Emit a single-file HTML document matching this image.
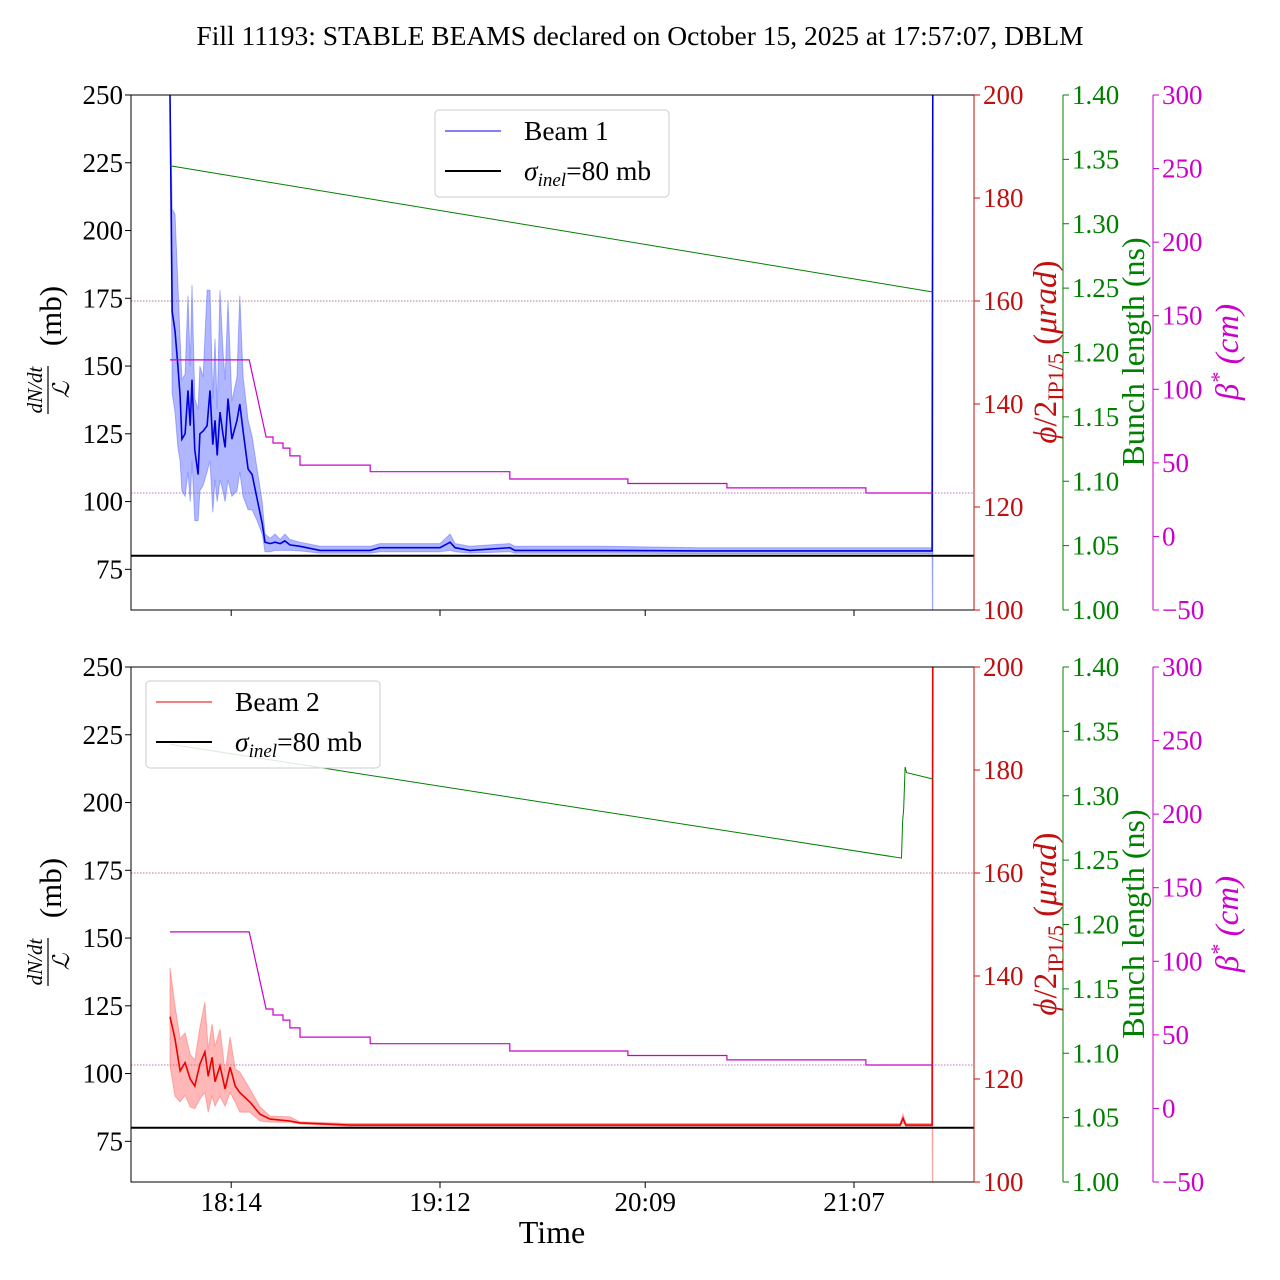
<!DOCTYPE html>
<html><head><meta charset="utf-8"><style>
body{margin:0;background:#fff}
svg{display:block;font-family:"Liberation Serif",serif}
</style></head><body>
<svg id="chart" width="1280" height="1280" viewBox="0 0 1280 1280" xmlns="http://www.w3.org/2000/svg">
<text x="640" y="45" font-size="27.5" text-anchor="middle">Fill 11193: STABLE BEAMS declared on October 15, 2025 at 17:57:07, DBLM</text>
</svg>
<script>
// time in minutes since 17:57
const xTickMinutes = [17, 75, 132, 190];
const xTickLabels = ["18:14", "19:12", "20:09", "21:07"];
const leftTicks = [75, 100, 125, 150, 175, 200, 225, 250];
const redTicks = [100, 120, 140, 160, 180, 200];
const greenTicks = [1.00, 1.05, 1.10, 1.15, 1.20, 1.25, 1.30, 1.35, 1.40];
const magTicks = [-50, 0, 50, 100, 150, 200, 250, 300];

const b1Time = [0,0.6,1.4,2.2,2.8,3.3,4.2,5,5.6,6.1,6.9,7.8,8.3,9.2,10.3,11.1,11.9,12.5,13.1,13.9,14.7,15.3,16.1,17.2,18.6,19.4,20.3,21.7,22.8,24.2,25.6,26.4,27.8,29.2,30.6,31.9,33.3,36.1,41.7,47.2,55.6,58.3,75,77.8,79.2,83.3,94.4,95.8,105.6,119.4,147.2,175,202.8,211.7,211.9];
const b1Mean = [250,170,163,150,139,123,125,141,128,145,119,110,125,126,128,141,121,130,117,133,125,120,138,123,130,136,126,112,110,101,92,85,84.5,85,84.5,85.5,84,83.5,82,82,82,83,83,85,83,82,83,82,82,82,81.8,81.8,81.8,81.8,260];
const b1Hi = [250,208,206,180,160,145,147,176,150,180,138,134,150,146,178,178,138,160,134,178,156,145,174,137,146,176,146,130,124,112,100,88,86.5,88,86,88,86,85,83.5,83.5,83.5,84.5,84.5,88,84.5,83.5,84.5,83.5,83.5,83.5,83,83,83,83,260];
const b1Lo = [250,140,133,120,115,104,102,111,100,115,93,93,104,106,111,115,96,108,100,108,104,100,108,102,104,111,102,97,97,93,88,81.5,81.5,82,82,82,82,81.8,81,81,81,81.5,81.5,82,81.5,81,81.5,81,81,81,80.8,80.8,80.8,80.8,40];

const b2Time = [0,1.4,2.8,4.2,5.6,6.9,8.3,9.7,10.6,11.7,12.5,13.9,15.3,16.7,18.1,19.4,22.2,25,27.8,33.3,36.1,50,91.7,147.2,202.8,203.6,204.4,211.7,211.9];
const b2Mean = [121,112.8,101,104,98,95.4,103.5,108,99,106,97,102.8,94.3,102.4,95.4,93,89.5,85,83.2,82.5,81.8,81,81,81,81,83.5,81,81,260];
const b2Hi = [139,125,112.8,115,107,105,117,126.4,109,118.3,110,116.4,100.6,113.5,101.7,100.6,94.3,87.7,84.3,84,82.2,81.6,81.6,81.6,81.6,85,81.6,81.6,260];
const b2Lo = [102.8,91.7,89.5,92,87.7,87,90.6,93,85.8,91.7,88,91.7,88,93,89.5,85.8,85.8,82.5,82.1,82.1,81.4,80.6,80.6,80.6,80.6,82,80.6,80.6,40];

const betaTime = [0,22,26.7,28.6,28.6,31.4,31.4,33.3,33.3,36.1,36.1,55.6,55.6,94.4,94.4,127.2,127.2,154.7,154.7,193.3,193.3,211.9];
const betaVal = [120,120,67.6,67.6,63.5,63.5,60,60,54.7,54.7,48.5,48.5,44,44,39,39,36,36,33,33,29.5,29.5];

const bl1Time = [0, 211.9];
const bl1Val = [1.345, 1.247];
const bl2Time = [0, 203.2, 203.5, 203.8, 204.2, 204.6, 211.9];
const bl2Val = [1.340, 1.2516, 1.28, 1.29, 1.3223, 1.318, 1.313];

const sigmaInel = 80;
const refRed = 160;
const refBeta = 29.5;

const NS = "http://www.w3.org/2000/svg";
const svg = document.getElementById('chart');
const X0 = 131, X1 = 974;
const xs = t => 170 + t * 3.6;
function mk(tag, attrs, parent) {
  const e = document.createElementNS(NS, tag);
  for (const k in attrs) e.setAttribute(k, attrs[k]);
  (parent || svg).appendChild(e);
  return e;
}
function poly(ts, vs, f) { return ts.map((t, i) => xs(t).toFixed(1) + ',' + f(vs[i]).toFixed(1)).join(' '); }

function panel(top, idx, T, M, H, L, color, fillc, bT, bV, legendLabel, legX, legY, showXLabels) {
  const bot = top + 515;
  const yL = v => bot - (v - 60) * 515 / 190;
  const yR = v => bot - (v - 100) * 515 / 100;
  const yG = v => bot - (v - 1.0) * 515 / 0.4;
  const yM = v => bot - (v + 50) * 515 / 350;
  const g = mk('g', {});
  
  
  const clipId = 'clip' + idx;
  const cp = mk('clipPath', { id: clipId }, g);
  mk('rect', { x: X0, y: top, width: X1 - X0, height: 515 }, cp);
  const plot = mk('g', { 'clip-path': 'url(#' + clipId + ')' }, g);
  const r1 = mk('line', { x1: X0, x2: X1, y1: yR(refRed), y2: yR(refRed), stroke: '#905050', 'stroke-width': 0.8, 'stroke-dasharray': '1.5,1.5' }, plot);
  
  
  const r2 = mk('line', { x1: X0, x2: X1, y1: yM(refBeta), y2: yM(refBeta), stroke: '#a050a0', 'stroke-width': 0.8, 'stroke-dasharray': '1.5,1.5' }, plot);
  
  
  const bandPts = poly(T, H, yL) + ' ' + poly(T.slice().reverse(), L.slice().reverse(), yL);
  const band = mk('polygon', { points: bandPts, fill: fillc, 'fill-opacity': 0.45, stroke: fillc, 'stroke-opacity': 0.45, 'stroke-width': 1 }, plot);
  
  
  const ln = mk('polyline', { points: poly(T, M, yL), fill: 'none', stroke: color, 'stroke-width': 1.6 }, plot);
  
  
  const gl = mk('polyline', { points: poly(bT, bV, yG), fill: 'none', stroke: 'green', 'stroke-width': 1 }, plot);
  
  
  const ml = mk('polyline', { points: poly(betaTime, betaVal, yM), fill: 'none', stroke: '#cc00cc', 'stroke-width': 1.2 }, plot);
  
  
  const sl = mk('line', { x1: X0, x2: X1, y1: yL(sigmaInel), y2: yL(sigmaInel), stroke: '#000', 'stroke-width': 2 }, plot);
  
  
  mk('rect', { x: X0, y: top, width: X1 - X0, height: 515, fill: 'none', stroke: '#000', 'stroke-width': 1 }, g);
  leftTicks.forEach(v => {
    const y = yL(v);
    mk('line', { x1: X0 - 6, x2: X0, y1: y, y2: y, stroke: '#000' }, g);
    const t = mk('text', { x: X0 - 8, y: y + 9, 'font-size': 27, 'text-anchor': 'end' }, g);
    t.textContent = v;
    
    
  });
  xTickMinutes.forEach((m, i) => {
    const x = xs(m);
    mk('line', { x1: x, x2: x, y1: bot, y2: bot + 6, stroke: '#000' }, g);
    if (showXLabels) {
      const t = mk('text', { x: x, y: bot + 29, 'font-size': 27, 'text-anchor': 'middle' }, g);
      t.textContent = xTickLabels[i];
      
      
    }
  });
  const axes = [[974, redTicks, yR, '#c01010', v => v], [1063, greenTicks, yG, 'green', v => v.toFixed(2)], [1153, magTicks, yM, '#cc00cc', v => v < 0 ? '\u2212' + (-v) : v]];
  axes.forEach(([ax, ticks, f, c, fmt]) => {
    mk('line', { x1: ax, x2: ax, y1: top, y2: bot, stroke: c, 'stroke-width': 1 }, g);
    ticks.forEach(v => {
      const y = f(v);
      mk('line', { x1: ax, x2: ax + 6, y1: y, y2: y, stroke: c }, g);
      const t = mk('text', { x: ax + 9, y: y + 9, 'font-size': 27, fill: c }, g);
      t.textContent = fmt(v);
      
      
    });
  });
  const cy = top + 257;
  const ll = mk('g', { transform: 'translate(50,' + cy + ') rotate(-90)' }, g);
  
  
  const a = mk('text', { x: -38, y: -8, 'font-size': 21, 'font-style': 'italic', 'text-anchor': 'middle' }, ll); a.textContent = 'dN/dt';
  mk('line', { x1: -62, x2: -14, y1: -2, y2: -2, stroke: '#000', 'stroke-width': 1.2 }, ll);
  const b = mk('text', { x: -38, y: 19, 'font-size': 23, 'font-style': 'italic', 'text-anchor': 'middle' }, ll); b.textContent = '\u2112';
  const c2 = mk('text', { x: 36, y: 11, 'font-size': 31, 'text-anchor': 'middle' }, ll); c2.textContent = '(mb)';
  const rl = mk('text', { transform: 'translate(1056,' + cy + ') rotate(-90)', 'font-size': 33, fill: '#c01010', 'text-anchor': 'middle' }, g);
  
  
  rl.innerHTML = '<tspan font-style="italic">\u03d5</tspan>/2<tspan font-size="22" dy="7">IP1/5</tspan><tspan dy="-7"> (</tspan><tspan font-style="italic">\u03bcrad</tspan>)';
  const gt = mk('text', { transform: 'translate(1144,' + cy + ') rotate(-90)', 'font-size': 32, fill: 'green', 'text-anchor': 'middle' }, g);
  gt.textContent = 'Bunch length (ns)';
  
  
  const mt = mk('text', { transform: 'translate(1238,' + cy + ') rotate(-90)', 'font-size': 33, fill: '#cc00cc', 'text-anchor': 'middle', 'font-style': 'italic' }, g);
  mt.innerHTML = '\u03b2<tspan font-size="22" dy="-12">*</tspan><tspan dy="12"> (cm)</tspan>';
  
  
  const lg = mk('g', {}, g);
  
  
  mk('rect', { x: legX, y: legY, width: 234, height: 87, rx: 4, fill: '#fff', 'fill-opacity': 0.85, stroke: '#ccc' }, lg);
  mk('line', { x1: legX + 10, x2: legX + 66, y1: legY + 21, y2: legY + 21, stroke: color, 'stroke-width': 1 }, lg);
  const t1 = mk('text', { x: legX + 89, y: legY + 30, 'font-size': 27.5 }, lg); t1.textContent = legendLabel;
  
  
  mk('line', { x1: legX + 10, x2: legX + 66, y1: legY + 61, y2: legY + 61, stroke: '#000', 'stroke-width': 2 }, lg);
  const t2 = mk('text', { x: legX + 89, y: legY + 70, 'font-size': 27.5 }, lg);
  t2.innerHTML = '<tspan font-style="italic">\u03c3</tspan><tspan font-style="italic" font-size="19" dy="6">inel</tspan><tspan dy="-6">=80 mb</tspan>';
  
  
}
panel(95, 1, b1Time, b1Mean, b1Hi, b1Lo, '#0000dd', '#5060ff', bl1Time, bl1Val, 'Beam 1', 435, 110, false);
panel(667, 2, b2Time, b2Mean, b2Hi, b2Lo, '#ee0000', '#ff6060', bl2Time, bl2Val, 'Beam 2', 146, 681, true);
const xt = mk('text', { x: 552, y: 1243, 'font-size': 32, 'text-anchor': 'middle' });
xt.textContent = 'Time';


</script>
</body></html>
